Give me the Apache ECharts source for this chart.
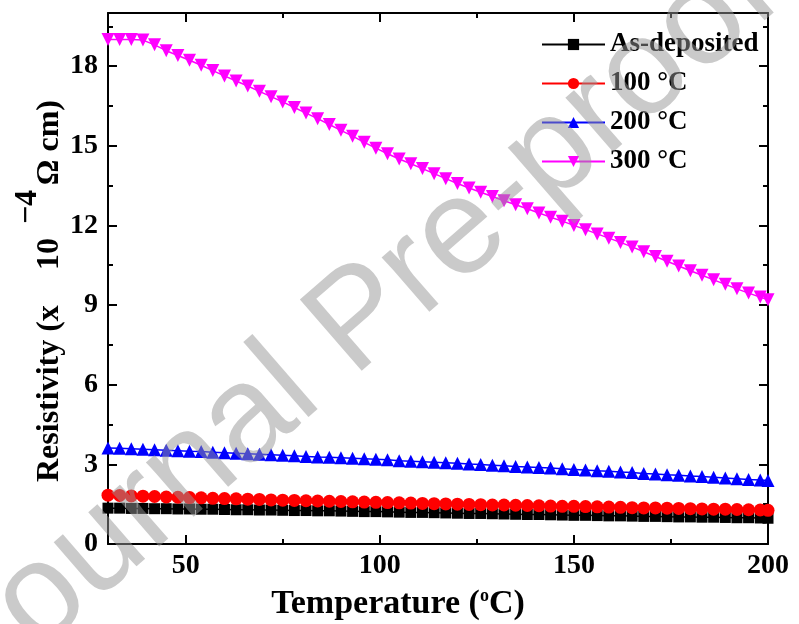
<!DOCTYPE html>
<html>
<head>
<meta charset="utf-8">
<script src="https://cdn.jsdelivr.net/npm/echarts@6/dist/echarts.min.js"></script>
<style>html,body{margin:0;padding:0;background:#fff;}#chart{width:799px;height:624px;}</style>
</head>
<body>
<div id="chart"></div>
<script>
const temps = [30,33,36,39,42,45,48,51,54,57,60,63,66,69,72,75,78,81,84,87,90,93,96,99,102,105,108,111,114,117,120,123,126,129,132,135,138,141,144,147,150,153,156,159,162,165,168,171,174,177,180,183,186,189,192,195,198,200];
const asDeposited = [1.35,1.35,1.34,1.34,1.33,1.33,1.32,1.32,1.31,1.31,1.30,1.29,1.29,1.28,1.28,1.27,1.26,1.26,1.25,1.25,1.24,1.23,1.22,1.22,1.21,1.20,1.19,1.19,1.18,1.17,1.16,1.15,1.15,1.14,1.13,1.12,1.11,1.11,1.10,1.09,1.08,1.08,1.07,1.06,1.06,1.05,1.04,1.04,1.03,1.02,1.02,1.01,1.01,1.00,0.99,0.99,0.98,0.97];
const t100 = [1.84,1.83,1.81,1.80,1.79,1.77,1.76,1.75,1.74,1.72,1.71,1.70,1.69,1.68,1.66,1.65,1.64,1.63,1.62,1.61,1.60,1.59,1.58,1.57,1.56,1.55,1.54,1.53,1.52,1.51,1.50,1.49,1.48,1.47,1.47,1.46,1.45,1.44,1.43,1.42,1.42,1.41,1.40,1.39,1.38,1.37,1.36,1.36,1.35,1.34,1.33,1.32,1.31,1.31,1.30,1.29,1.28,1.27];
const t200 = [3.62,3.61,3.59,3.57,3.55,3.53,3.51,3.49,3.48,3.46,3.44,3.42,3.40,3.38,3.36,3.34,3.32,3.30,3.28,3.27,3.25,3.23,3.21,3.19,3.17,3.14,3.12,3.10,3.08,3.06,3.04,3.01,2.99,2.97,2.95,2.92,2.90,2.88,2.86,2.83,2.81,2.79,2.76,2.74,2.71,2.69,2.66,2.64,2.61,2.59,2.56,2.54,2.51,2.49,2.46,2.43,2.41,2.39];
const t300 = [19.00,19.00,19.00,18.98,18.80,18.58,18.40,18.22,18.03,17.83,17.63,17.44,17.25,17.05,16.85,16.65,16.44,16.23,16.02,15.80,15.58,15.36,15.13,14.91,14.70,14.50,14.32,14.14,13.95,13.76,13.58,13.41,13.25,13.09,12.93,12.78,12.63,12.47,12.31,12.16,12.00,11.84,11.68,11.52,11.36,11.19,11.01,10.83,10.65,10.47,10.29,10.12,9.95,9.78,9.61,9.45,9.30,9.20];
const seriesNames = ['As-deposited','100 \u00B0C','200 \u00B0C','300 \u00B0C'];
const xMajorTicks = [50,100,150,200];
const xMinorTicks = [75,125,175];
const yMajorTicks = [0,3,6,9,12,15,18];
const yMinorTicks = [1.5,4.5,7.5,10.5,13.5,16.5,19.5];

const pair = arr => temps.map((t,i)=>[t,arr[i]]);
const FONT = '"Liberation Serif","Times New Roman",serif';
const chart = echarts.init(document.getElementById('chart'));

function xAx(pos, ticks, len, showLabel, showLine){
  return {type:'value', min:30, max:200, position:pos, gridIndex:0,
    axisLine:{show:showLine, onZero:false, lineStyle:{color:'#000', width:2}},
    axisTick:{show:true, inside:true, length:len, customValues:ticks, lineStyle:{color:'#000', width:2}},
    axisLabel:{show:showLabel, customValues:xMajorTicks, color:'#000', fontFamily:FONT, fontWeight:'bold', fontSize:28, margin:8},
    splitLine:{show:false}};
}
function yAx(pos, ticks, len, showLabel, showLine){
  return {type:'value', min:0, max:20, position:pos, gridIndex:0,
    axisLine:{show:showLine, onZero:false, lineStyle:{color:'#000', width:2}},
    axisTick:{show:true, inside:true, length:len, customValues:ticks, lineStyle:{color:'#000', width:2}},
    axisLabel:{show:showLabel, customValues:yMajorTicks, color:'#000', fontFamily:FONT, fontWeight:'bold', fontSize:28, margin:10},
    splitLine:{show:false}};
}

const colors = ['#000000','#ff0000','#0000ff','#ff00ff'];
const symbols = ['rect','circle','triangle','triangle'];
const sizes = [11,13,13,13];
const rots = [0,0,0,180];
const datas = [asDeposited,t100,t200,t300];
const titleFont = 'bold 32px ' + FONT;

chart.setOption({
  animation:false,
  backgroundColor:'#fff',
  grid:{left:108, right:31, top:13, bottom:80},
  xAxis:[xAx('bottom',xMajorTicks,9,true,true), xAx('bottom',xMinorTicks,5,false,false),
         xAx('top',xMajorTicks,9,false,true), xAx('top',xMinorTicks,5,false,false)],
  yAxis:[yAx('left',yMajorTicks,9,true,true), yAx('left',yMinorTicks,5,false,false),
         yAx('right',yMajorTicks,9,false,true), yAx('right',yMinorTicks,5,false,false)],
  legend:{orient:'vertical', left:536, top:26, itemWidth:63, itemHeight:14, itemGap:12,
    textStyle:{fontFamily:FONT, fontWeight:'bold', fontSize:27, color:'#000'},
    data:seriesNames},
  series: datas.map((d,i)=>({
    name:seriesNames[i], type:'line', xAxisIndex:0, yAxisIndex:0, data:pair(d),
    symbol:symbols[i], symbolSize:sizes[i], symbolRotate:rots[i], showAllSymbol:true, clip:false,
    lineStyle:{color:colors[i], width:1.5}, itemStyle:{color:colors[i]}
  })),
  graphic:[
    {type:'text', x:50, y:482, rotation:Math.PI/2, z:50,
     style:{text:'Resistivity (x', font:titleFont, fill:'#000', align:'left', verticalAlign:'middle'}},
    {type:'text', x:50, y:254, rotation:Math.PI/2, z:50,
     style:{text:'10', font:titleFont, fill:'#000', align:'center', verticalAlign:'middle'}},
    {type:'text', x:28, y:207, rotation:Math.PI/2, z:50,
     style:{text:'\u22124', font:titleFont, fill:'#000', align:'center', verticalAlign:'middle'}},
    {type:'text', x:50, y:100, rotation:Math.PI/2, z:50,
     style:{text:'\u03A9 cm)', font:titleFont, fill:'#000', align:'right', verticalAlign:'middle'}},
    {type:'text', x:398, y:604, z:50,
     style:{text:'{a|Temperature (}{s|o}{a|C)}', align:'center', verticalAlign:'middle',
       rich:{a:{font:'bold 34px '+FONT, fill:'#000'},
             s:{font:'bold 18px '+FONT, fill:'#000', padding:[0,0,16,0]}}}},
    {type:'text', x:360, y:322, rotation:41*Math.PI/180, z:100, silent:true,
     style:{text:'Journal Pre-proof', font:'137px "Liberation Sans", Arial, sans-serif', fill:'rgba(150,150,150,0.5)', align:'center', verticalAlign:'middle'}}
  ]
});
</script>
</body>
</html>
